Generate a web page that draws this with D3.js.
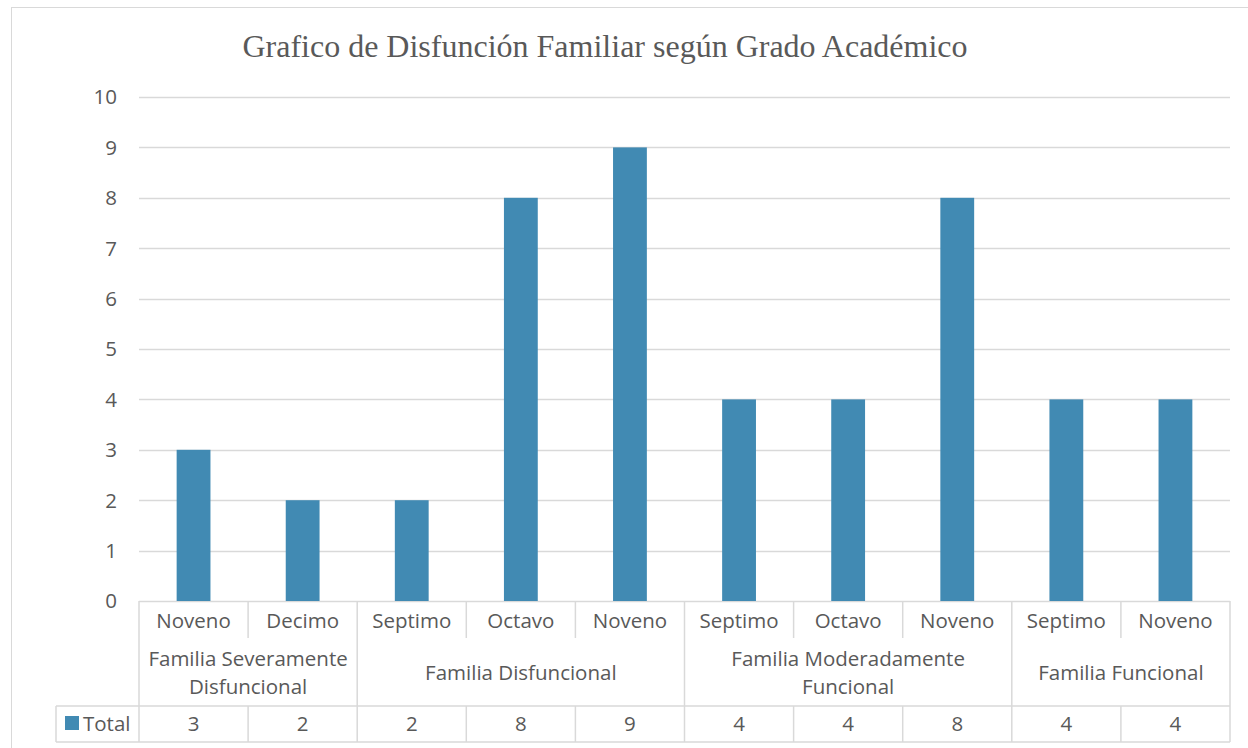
<!DOCTYPE html>
<html>
<head>
<meta charset="utf-8">
<script src="https://cdn.jsdelivr.net/npm/d3@7"></script>
<style>
  body { margin: 0; background: #fff; }
  text { fill: #595959; }
</style>
</head>
<body>
<svg width="1248" height="748"></svg>
<script>
var groups = ["Familia Severamente|Disfuncional", "Familia Disfuncional", "Familia Moderadamente|Funcional", "Familia Funcional"];
var groupSizes = [2, 3, 3, 2];
var grades = ["Noveno", "Decimo", "Septimo", "Octavo", "Noveno", "Septimo", "Octavo", "Noveno", "Septimo", "Noveno"];
var totals = [3, 2, 2, 8, 9, 4, 4, 8, 4, 4];
var yTicks = [0, 1, 2, 3, 4, 5, 6, 7, 8, 9, 10];

var svg = d3.select("svg"),
    width = +svg.attr("width"),
    height = +svg.attr("height");

var plotLeft = 139, plotRight = 1230, plotTop = 97, plotBottom = 601;
var gridColor = "#d9d9d9";
var barColor = "#418ab3";
var font = "'Open Sans', sans-serif";
var fs = "20.5px";

// chart border
svg.append("rect")
    .attr("x", 11.5).attr("y", 7.5)
    .attr("width", 1260).attr("height", 760)
    .attr("fill", "none").attr("stroke", gridColor);

svg.append("text")
    .attr("x", 605).attr("y", 57)
    .attr("text-anchor", "middle")
    .style("font-family", "'Liberation Serif', 'Times New Roman', serif")
    .style("font-size", "32px")
    .text("Grafico de Disfunción Familiar según Grado Académico");

var idx = d3.range(grades.length);
var x = d3.scaleBand().domain(idx).range([plotLeft, plotRight]).paddingInner(0).paddingOuter(0);
var y = d3.scaleLinear().domain([0, 10]).range([plotBottom, plotTop]);

// gridlines
svg.append("g").selectAll("line")
    .data(yTicks)
    .enter().append("line")
    .attr("x1", plotLeft).attr("x2", plotRight)
    .attr("y1", function(d) { return Math.round(y(d)) + 0.5; })
    .attr("y2", function(d) { return Math.round(y(d)) + 0.5; })
    .attr("stroke", gridColor).attr("stroke-width", 1.5);

// y labels
svg.append("g").selectAll("text")
    .data(yTicks)
    .enter().append("text")
    .attr("x", 117)
    .attr("y", function(d) { return y(d); })
    .attr("dy", "0.36em")
    .attr("text-anchor", "end")
    .style("font-family", font)
    .style("font-size", fs)
    .text(function(d) { return d; });

// bars
var bw = x.bandwidth() * 0.31;
svg.append("g").selectAll("rect")
    .data(totals)
    .enter().append("rect")
    .attr("x", function(d, i) { return x(i) + x.bandwidth() / 2 - bw / 2; })
    .attr("width", bw)
    .attr("y", function(d) { return y(d); })
    .attr("height", function(d) { return y(0) - y(d); })
    .attr("fill", barColor);

// data table
var row1 = 601, row2 = 640, row3 = 706, row4 = 742, legendLeft = 56;
var tbl = svg.append("g").attr("stroke", gridColor).attr("stroke-width", 1.5);

var bounds = [0];
groupSizes.forEach(function(s, i) { bounds.push(bounds[i] + s); });
function colX(i) { return i >= grades.length ? plotRight : x(i); }

idx.concat([grades.length]).forEach(function(i) {
    var isBound = bounds.indexOf(i) >= 0;
    tbl.append("line")
        .attr("x1", colX(i)).attr("x2", colX(i))
        .attr("y1", row1).attr("y2", isBound ? row4 : row2 - 2);
    if (!isBound) {
        tbl.append("line")
            .attr("x1", colX(i)).attr("x2", colX(i))
            .attr("y1", row3).attr("y2", row4);
    }
});
tbl.append("line").attr("x1", legendLeft).attr("x2", plotRight).attr("y1", row3).attr("y2", row3);
tbl.append("line").attr("x1", legendLeft).attr("x2", plotRight).attr("y1", row4).attr("y2", row4);
tbl.append("line").attr("x1", legendLeft).attr("x2", legendLeft).attr("y1", row3).attr("y2", row4);

// grade labels
svg.append("g").selectAll("text")
    .data(grades)
    .enter().append("text")
    .attr("x", function(d, i) { return x(i) + x.bandwidth() / 2; })
    .attr("y", (row1 + row2) / 2)
    .attr("dy", "0.36em")
    .attr("text-anchor", "middle")
    .style("font-family", font)
    .style("font-size", fs)
    .text(function(d) { return d; });

// group labels
groups.forEach(function(g, gi) {
    var cx = (colX(bounds[gi]) + colX(bounds[gi + 1])) / 2;
    var lines = g.split("|");
    var cy = (row2 + row3) / 2;
    var lh = 28;
    lines.forEach(function(l, li) {
        svg.append("text")
            .attr("x", cx)
            .attr("y", cy + (li - (lines.length - 1) / 2) * lh)
            .attr("dy", "0.36em")
            .attr("text-anchor", "middle")
            .style("font-family", font)
            .style("font-size", fs)
            .text(l);
    });
});

// values row
svg.append("g").selectAll("text")
    .data(totals)
    .enter().append("text")
    .attr("x", function(d, i) { return x(i) + x.bandwidth() / 2; })
    .attr("y", (row3 + row4) / 2)
    .attr("dy", "0.36em")
    .attr("text-anchor", "middle")
    .style("font-family", font)
    .style("font-size", fs)
    .text(function(d) { return d; });

// legend key
svg.append("rect")
    .attr("x", 65).attr("y", 716).attr("width", 14).attr("height", 14)
    .attr("fill", barColor);
svg.append("text")
    .attr("x", 83).attr("y", (row3 + row4) / 2)
    .attr("dy", "0.36em")
    .style("font-family", font)
    .style("font-size", fs)
    .text("Total");
</script>
</body>
</html>
